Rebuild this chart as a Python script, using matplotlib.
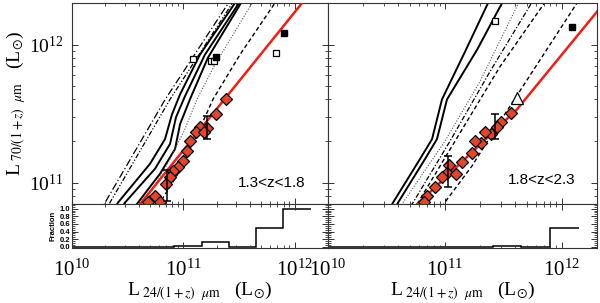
import numpy as np
import matplotlib
matplotlib.use('Agg')
import matplotlib.pyplot as plt
from matplotlib.ticker import LogLocator, NullFormatter, MultipleLocator

plt.rcParams['mathtext.fontset'] = 'stix'
plt.rcParams['font.family'] = ['Liberation Serif', 'DejaVu Serif']

# ---------------- data (log10 luminosities) ----------------
# Left panel: 1.3<z<1.8
L_diam_x = [11.384, 11.294, 11.213, 11.150, 11.114, 11.186, 11.060, 11.033, 10.997,
            10.952, 10.907, 10.880, 10.845, 10.746, 10.683, 10.791]
L_diam_y = [11.603, 11.495, 11.395, 11.402, 11.366, 11.366, 11.301, 11.229, 11.157,
            11.114, 11.085, 11.042, 10.992, 10.905, 10.862, 10.862]
L_err_x = [11.213, 10.854]
L_err_y = [11.395, 10.985]
L_err_lo = [11.315, 10.869]
L_err_hi = [11.481, 11.092]
L_osq_x = [11.087, 11.249, 11.276, 11.833]
L_osq_y = [11.898, 11.884, 11.884, 11.941]
L_fsq_x = [11.294, 11.905]
L_fsq_y = [11.913, 12.085]
L_fit_x = [10.0, 12.4]
L_fit_y = [10.233, 12.633]

# template tracks, left panel
L_dashdot1_x = [10.1, 10.297, 10.838, 11.406, 11.6]
L_dashdot1_y = [10.5, 10.855, 11.603, 12.301, 12.55]
L_dashdot2_x = [10.15, 10.341, 10.881, 11.442, 11.65]
L_dashdot2_y = [10.5, 10.855, 11.603, 12.301, 12.55]
L_solid1_x = [10.3, 10.413, 10.701, 10.836, 10.899, 10.971, 11.150, 11.465, 11.6]
L_solid1_y = [10.7, 10.855, 11.136, 11.315, 11.495, 11.639, 11.927, 12.301, 12.45]
L_solid2_x = [10.35, 10.476, 10.746, 10.881, 10.935, 11.015, 11.195, 11.501, 11.65]
L_solid2_y = [10.7, 10.855, 11.100, 11.280, 11.474, 11.625, 11.927, 12.301, 12.45]
L_solid3_x = [10.45, 10.593, 10.791, 10.926, 10.971, 11.060, 11.222, 11.519, 11.7]
L_solid3_y = [10.7, 10.855, 11.064, 11.243, 11.423, 11.603, 11.905, 12.301, 12.5]
L_dotted_x = [10.5, 10.656, 10.881, 11.015, 11.123, 11.285, 11.420, 11.618, 11.8]
L_dotted_y = [10.6, 10.855, 11.171, 11.387, 11.603, 11.855, 12.035, 12.301, 12.5]
L_dashed_x = [10.65, 10.791, 10.953, 11.106, 11.267, 11.510, 11.824, 11.95]
L_dashed_y = [10.6, 10.855, 11.064, 11.315, 11.603, 11.927, 12.301, 12.45]

# Right panel: 1.8<z<2.3
R_diam_x = [11.565, 11.480, 11.446, 11.394, 11.343, 11.309, 11.257, 11.232, 11.146,
            11.035, 11.018, 11.095, 10.975, 10.915, 10.847, 10.821]
R_diam_y = [11.502, 11.438, 11.402, 11.351, 11.366, 11.287, 11.301, 11.215, 11.150,
            11.128, 11.071, 11.065, 11.042, 10.970, 10.905, 10.862]
R_err_x = [11.429, 11.027]
R_err_y = [11.402, 11.078]
R_err_lo = [11.315, 10.970]
R_err_hi = [11.495, 11.193]
R_osq_x = [11.429]
R_osq_y = [12.171]
R_fsq_x = [12.087]
R_fsq_y = [12.128]
R_tri_x = [11.617]
R_tri_y = [11.610]
R_fit_x = [10.5, 10.787, 11.617, 12.4]
R_fit_y = [10.631, 10.862, 11.531, 12.34]

R_solid1_x = [10.4, 10.556, 10.787, 10.890, 10.975, 11.172, 11.369, 11.5]
R_solid1_y = [10.6, 10.855, 11.171, 11.315, 11.603, 11.948, 12.301, 12.5]
R_solid2_x = [10.45, 10.599, 10.830, 10.932, 11.018, 11.275, 11.489, 11.6]
R_solid2_y = [10.6, 10.855, 11.171, 11.315, 11.603, 11.962, 12.301, 12.45]
R_dashdot_x = [10.45, 10.642, 11.001, 11.300, 11.630, 11.8]
R_dashdot_y = [10.6, 10.855, 11.301, 11.733, 12.301, 12.55]
R_dotted_x = [10.5, 10.727, 11.044, 11.386, 11.741, 11.9]
R_dotted_y = [10.6, 10.855, 11.301, 11.805, 12.301, 12.5]
R_dashed1_x = [10.55, 10.770, 11.087, 11.472, 11.852, 12.0]
R_dashed1_y = [10.6, 10.855, 11.301, 11.841, 12.301, 12.5]
R_dashed2_x = [10.85, 10.998, 11.232, 11.446, 12.130, 12.3]
R_dashed2_y = [10.65, 10.855, 11.121, 11.409, 12.301, 12.55]

# Fraction histograms
L_frac_edges = [10.0, 10.92, 11.165, 11.41, 11.655, 11.90, 12.145]
L_frac = [0.0, 0.01, 0.13, 0.0, 0.5, 1.0]
R_frac_edges = [10.0, 11.41, 11.655, 11.90, 12.145]
R_frac = [0.0, 0.03, 0.0, 0.5]

z_labels = ['1.3<z<1.8', '1.8<z<2.3']

# ---------------- figure ----------------
W, H = 600, 303
fig = plt.figure(figsize=(6.0, 3.03), dpi=100)

def frac(x0, y0, x1, y1):
    return [x0 / W, 1 - y1 / H, (x1 - x0) / W, (y1 - y0) / H]

axL = fig.add_axes(frac(72, 3, 328, 204))
axLb = fig.add_axes(frac(72, 204, 328, 248))
axR = fig.add_axes(frac(328, 3, 597, 204))
axRb = fig.add_axes(frac(328, 204, 597, 248))

P = lambda a: 10 ** np.asarray(a, dtype=float)
RED = '#f01e14'
DRED = '#e2452c'

def style(ax):
    for s in ax.spines.values():
        s.set_linewidth(0.8)
        s.set_color('#333333')
    ax.tick_params(which='both', direction='in', top=True, right=True, color='#333333')
    ax.tick_params(which='major', length=4.5, width=0.7)
    ax.tick_params(which='minor', length=2.3, width=0.6)

def main_panel(ax, tracks, fit, diam, err, osq, fsq, tri, zlab, zpos, ylab):
    ax.set_xscale('log'); ax.set_yscale('log')
    for (xs, ys, ls, lw, col) in tracks:
        ax.plot(P(xs), P(ys), ls=ls, lw=lw, color=col, zorder=2)
    ax.plot(P(fit[0]), P(fit[1]), color=RED, lw=1.8, zorder=3)
    ex, ey, elo, ehi = err
    ex = P(ex); ey = P(ey)
    yerr = [ey - P(elo), P(ehi) - ey]
    ax.plot(P(diam[0]), P(diam[1]), ls='none', marker='D', ms=6, mfc=DRED, mec='k', mew=0.9, zorder=4)
    ax.errorbar(ex, ey, yerr=yerr, fmt='none', ecolor='k', elinewidth=1.1, capsize=3, capthick=1.1, zorder=5)
    if osq is not None:
        ax.plot(P(osq[0]), P(osq[1]), ls='none', marker='s', ms=5, mfc='white', mec='k', mew=0.9, zorder=4)
    if fsq is not None:
        ax.plot(P(fsq[0]), P(fsq[1]), ls='none', marker='s', ms=4, mfc='k', mec='k', zorder=4)
    if tri is not None:
        ax.plot(P(tri[0]), P(tri[1]), ls='none', marker='^', ms=8, mfc='white', mec='k', mew=0.9, zorder=4)
    ax.set_xlim(1e10, 2e12)
    ax.set_ylim(7e10, 2e12)
    ax.xaxis.set_major_locator(LogLocator(base=10, numticks=10))
    ax.xaxis.set_minor_locator(LogLocator(base=10, subs=np.arange(2, 10), numticks=20))
    ax.yaxis.set_major_locator(LogLocator(base=10, numticks=10))
    ax.yaxis.set_minor_locator(LogLocator(base=10, subs=np.arange(2, 10), numticks=20))
    ax.xaxis.set_major_formatter(NullFormatter())
    ax.xaxis.set_minor_formatter(NullFormatter())
    ax.yaxis.set_minor_formatter(NullFormatter())
    if not ylab:
        ax.yaxis.set_major_formatter(NullFormatter())
    else:
        ax.tick_params(axis='y', labelsize=14, pad=6)
    style(ax)
    ax.text(zpos[0], zpos[1], zlab, transform=ax.transAxes, ha='center', va='center',
            fontsize=11, family=['Liberation Sans', 'DejaVu Sans'])

def frac_panel(ax, edges, vals, ylab):
    ax.set_xscale('log')
    ax.stairs(vals, P(edges), baseline=None, color='k', lw=1.1)
    ax.set_xlim(1e10, 2e12)
    ax.set_ylim(-0.03, 1.12)
    ax.xaxis.set_major_locator(LogLocator(base=10, numticks=10))
    ax.xaxis.set_minor_locator(LogLocator(base=10, subs=np.arange(2, 10), numticks=20))
    ax.xaxis.set_minor_formatter(NullFormatter())
    ax.yaxis.set_major_locator(MultipleLocator(0.2))
    ax.yaxis.set_minor_locator(MultipleLocator(0.05))
    style(ax)
    ax.tick_params(axis='x', labelsize=15, pad=8)
    if ylab:
        ax.set_yticks([0.0, 0.2, 0.4, 0.6, 0.8, 1.0])
        ax.set_yticklabels(['0.0', '0.2', '0.4', '0.6', '0.8', '1.0'],
                           fontsize=5.5, fontweight='bold', family=['Liberation Sans', 'DejaVu Sans'])
        ax.tick_params(axis='y', pad=1.5)
        ax.set_ylabel('Fraction', fontsize=5.5, fontweight='bold',
                      family=['Liberation Sans', 'DejaVu Sans'], labelpad=2)
    else:
        ax.yaxis.set_major_formatter(NullFormatter())
    ax.set_xlabel(r'L$_{\ 24/(1+z)\ \ \mu{\rm m}}$   (L$_{\odot}$)', fontsize=14, labelpad=-1)

L_tracks = [
    (L_dashdot1_x, L_dashdot1_y, (0, (6, 2, 1, 2)), 0.9, 'k'),
    (L_dashdot2_x, L_dashdot2_y, (0, (4, 1.5, 1, 1.5, 1, 1.5)), 0.9, 'k'),
    (L_solid1_x, L_solid1_y, '-', 1.4, 'k'),
    (L_solid2_x, L_solid2_y, '-', 1.4, 'k'),
    (L_solid3_x, L_solid3_y, '-', 1.4, 'k'),
    (L_dotted_x, L_dotted_y, (0, (1, 1.5)), 0.8, '#555555'),
    (L_dashed_x, L_dashed_y, (0, (3, 2)), 1.0, 'k'),
]
R_tracks = [
    (R_solid1_x, R_solid1_y, '-', 1.4, 'k'),
    (R_solid2_x, R_solid2_y, '-', 1.4, 'k'),
    (R_dashdot_x, R_dashdot_y, (0, (1, 1.5)), 0.8, '#555555'),
    (R_dotted_x, R_dotted_y, (0, (4, 1.5, 1, 1.5)), 0.9, 'k'),
    (R_dashed1_x, R_dashed1_y, (0, (3, 2)), 1.0, 'k'),
    (R_dashed2_x, R_dashed2_y, (0, (3, 2)), 1.0, 'k'),
]

main_panel(axL, L_tracks, (L_fit_x, L_fit_y), (L_diam_x, L_diam_y),
           (L_err_x, L_err_y, L_err_lo, L_err_hi), (L_osq_x, L_osq_y), (L_fsq_x, L_fsq_y), None,
           z_labels[0], (0.78, 0.105), True)
main_panel(axR, R_tracks, (R_fit_x, R_fit_y), (R_diam_x, R_diam_y),
           (R_err_x, R_err_y, R_err_lo, R_err_hi), (R_osq_x, R_osq_y), (R_fsq_x, R_fsq_y), (R_tri_x, R_tri_y),
           z_labels[1], (0.795, 0.12), False)
axL.set_ylabel(r'L$_{\ 70/(1+z)\ \ \mu{\rm m}}$   (L$_{\odot}$)', fontsize=14, labelpad=1)

frac_panel(axLb, L_frac_edges, L_frac, True)
frac_panel(axRb, R_frac_edges, R_frac, False)

fig.savefig('out.png', dpi=100)
